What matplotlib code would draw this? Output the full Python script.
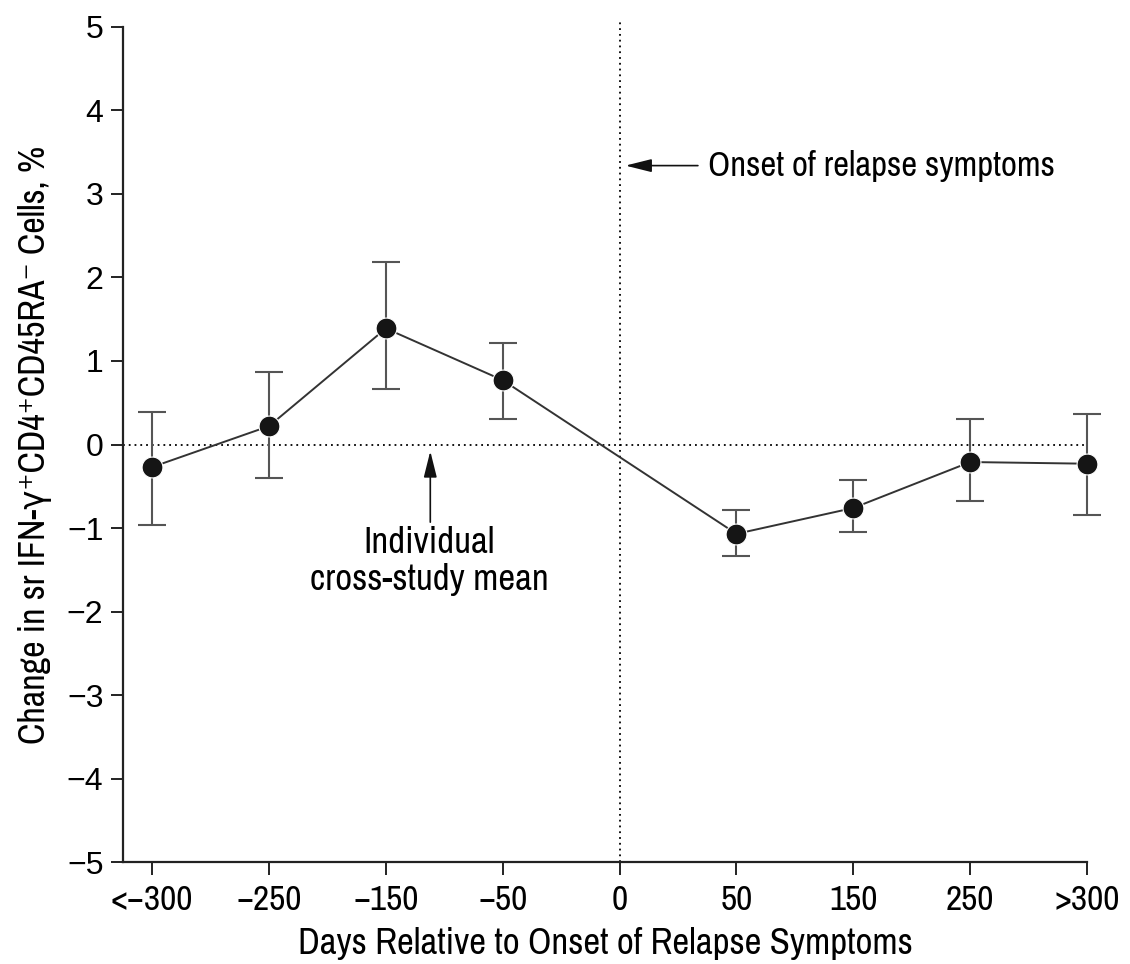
import numpy as np
import matplotlib
matplotlib.use('Agg')
import matplotlib.pyplot as plt
from matplotlib import font_manager

# data
categories = ['<\u2212300', '\u2212250', '\u2212150', '\u221250', '0', '50', '150', '250', '>300']
point_idx = [0, 1, 2, 3, 5, 6, 7, 8]           # no measurement at day 0
means = [-0.27, 0.22, 1.39, 0.77, -1.07, -0.76, -0.21, -0.23]
err_hi = [0.39, 0.87, 2.19, 1.22, -0.78, -0.42, 0.31, 0.36]
err_lo = [-0.96, -0.40, 0.66, 0.30, -1.34, -1.05, -0.68, -0.85]
yticks = [5, 4, 3, 2, 1, 0, -1, -2, -3, -4, -5]

names = sorted({f.name for f in font_manager.fontManager.ttflist})
narrow_name = next((n for n in names if 'Narrow' in n or 'Condensed' in n), 'DejaVu Sans')
narrow = dict(family=[narrow_name, 'DejaVu Sans'], stretch='condensed')

fig = plt.figure(figsize=(11.3, 9.64), dpi=100)
ax = fig.add_axes([0.1088, 0.1058, 0.962 - 0.1088, 0.972 - 0.1058])

means_a = np.array(means)
yerr = [means_a - np.array(err_lo), np.array(err_hi) - means_a]

# reference lines
ax.plot([-0.25, 8], [0, 0], color='black', linestyle=(0, (1, 2.2)), linewidth=1.3, zorder=1)
ax.plot([4, 4], [-5, 5.06], color='black', linestyle=(0, (1, 2.2)), linewidth=1.3,
        zorder=1, clip_on=False)

eb = ax.errorbar(point_idx, means, yerr=yerr, fmt='none', ecolor='#555555', elinewidth=1.5,
                 capsize=10, capthick=1.5, zorder=2)
for art in eb.get_children():
    art.set_clip_on(False)
ax.plot(point_idx, means, color='#333333', linewidth=1.4, zorder=3, clip_on=False)
ax.plot(point_idx, means, linestyle='none', marker='o', markersize=15, clip_on=False,
        markerfacecolor='#151515', markeredgecolor='white', markeredgewidth=0.8, zorder=4)

ax.set_xlim(-0.25, 8)
ax.set_ylim(-5, 5)
ax.set_xticks(range(len(categories)))
ax.set_xticklabels(categories, fontsize=25.5, **narrow)
ax.set_yticks(yticks)
ax.set_yticklabels(['\u2212' + str(abs(v)) if v < 0 else str(v) for v in yticks],
                   family='Liberation Sans', fontsize=23)

for s in ['top', 'right']:
    ax.spines[s].set_visible(False)
for s in ['left', 'bottom']:
    ax.spines[s].set_linewidth(1.6)
    ax.spines[s].set_color('#222222')
ax.tick_params(direction='out', length=9, width=1.4, color='#222222')
ax.tick_params(axis='y', pad=5)
ax.tick_params(axis='x', pad=7)

ax.set_xlabel('Days Relative to Onset of Relapse Symptoms', fontsize=26.5, labelpad=8, **narrow)
ax.set_ylabel('Change in sr IFN-\u03b3\u207aCD4\u207aCD45RA\u207b Cells, %',
              fontsize=26, labelpad=11, **narrow)

# annotations
head = '-|>,head_length=1.6,head_width=0.4'
ax.annotate('', xy=(4.05, 3.34), xytext=(4.67, 3.34),
            arrowprops=dict(arrowstyle=head, color='#111111', lw=1.2, shrinkA=0, shrinkB=0))
ax.text(4.76, 3.34, 'Onset of relapse symptoms', fontsize=25,
        ha='left', va='center', **narrow)

ax.annotate('', xy=(2.38, -0.08), xytext=(2.38, -0.93),
            arrowprops=dict(arrowstyle=head, color='#111111', lw=1.2, shrinkA=0, shrinkB=0))
ax.text(2.37, -1.40, 'Individual\ncross-study mean', fontsize=26.5,
        ha='center', va='center', linespacing=1.15, **narrow)

fig.savefig('out.png', dpi=100)
